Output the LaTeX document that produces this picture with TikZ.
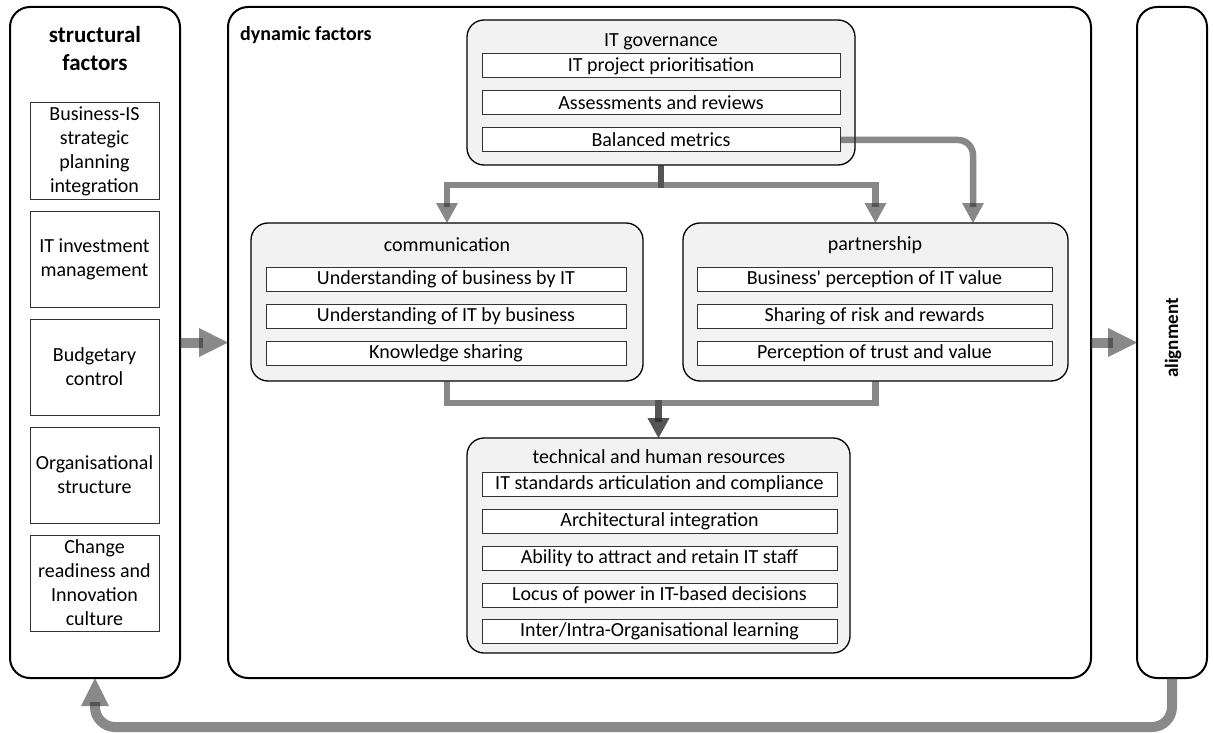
\documentclass[tikz,border=0pt]{standalone}
\usepackage{fontspec}
\setmainfont{Carlito}[Ligatures=TeXOff]
\usetikzlibrary{calc}
\definecolor{groupfill}{HTML}{F2F2F2}
\definecolor{connc}{HTML}{2F2F2F}
\newcommand{\diagfont}{\fontsize{20}{24}\selectfont}
\begin{document}
\begin{tikzpicture}[x=1pt,y=-1pt,
  outerbox/.style={draw=black,line width=2pt,rounded corners=20pt,fill=white,inner sep=0pt,outer sep=0pt,anchor=north west},
  groupbox/.style={draw=black,line width=1.3pt,rounded corners=17pt,fill=groupfill,inner sep=0pt,outer sep=0pt,anchor=north west},
  itembox/.style={draw=black!80,line width=1pt,fill=white,inner sep=0pt,outer sep=0pt,anchor=north west,minimum height=24pt,font=\diagfont},
  leftbox/.style={draw=black!80,line width=1pt,fill=white,inner sep=0pt,outer sep=0pt,anchor=north west,minimum width=129pt,minimum height=96pt,align=center,font=\diagfont},
  grouptitle/.style={inner sep=0pt,font=\diagfont},
  conn/.style={draw=connc,draw opacity=.57,line width=6.5pt},
  bigconn/.style={draw=connc,draw opacity=.57,line width=10pt},
  head/.style={fill=connc,fill opacity=.57},
]
\useasboundingbox (0,0) rectangle (1213,733);

% three outer panels
\node[outerbox,minimum width=170pt,minimum height=671pt] (struct) at (10,7) {};
\node[outerbox,minimum width=863pt,minimum height=671pt] (dyn) at (228,7) {};
\node[outerbox,minimum width=70pt,minimum height=671pt] (align) at (1137,7) {};

\node[align=center,inner sep=0pt,font=\bfseries\fontsize{23}{28}\selectfont] (structtitle) at (95,49) {structural\\factors};
\node[anchor=west,inner sep=0pt,font=\bfseries\fontsize{20}{24}\selectfont] (dyntitle) at (240,35) {dynamic factors};
\node[rotate=90,inner sep=0pt,font=\bfseries\fontsize{19}{23}\selectfont] (aligntitle) at (1173,338) {alignment};

% structural factors
\node[leftbox] (s1) at (30,103) {Business-IS\\strategic\\planning\\integration};
\node[leftbox] (s2) at (30,211) {IT investment\\management};
\node[leftbox] (s3) at (30,319) {Budgetary\\control};
\node[leftbox] (s4) at (30,427) {Organisational\\structure};
\node[leftbox] (s5) at (30,535) {Change\\readiness and\\Innovation\\culture};

% IT governance
\node[groupbox,minimum width=388pt,minimum height=145pt] (gov) at (467,20) {};
\node[grouptitle] (govtitle) at (661,42) {IT governance};
\node[itembox,minimum width=358pt] (g1) at (482,54) {IT project prioritisation};
\node[itembox,minimum width=358pt] (g2) at (482,91) {Assessments and reviews};
\node[itembox,minimum width=358pt] (g3) at (482,128) {Balanced metrics};

% communication
\node[groupbox,minimum width=392pt,minimum height=158pt] (comm) at (251,223) {};
\node[grouptitle] (commtitle) at (447,245) {communication};
\node[itembox,minimum width=360pt] (c1) at (266,267) {Understanding of business by IT};
\node[itembox,minimum width=360pt] (c2) at (266,304) {Understanding of IT by business};
\node[itembox,minimum width=360pt] (c3) at (266,341) {Knowledge sharing};

% partnership
\node[groupbox,minimum width=385pt,minimum height=158pt] (part) at (683,223) {};
\node[grouptitle] (parttitle) at (875,245) {partnership};
\node[itembox,minimum width=355pt] (p1) at (697,267) {Business' perception of IT value};
\node[itembox,minimum width=355pt] (p2) at (697,304) {Sharing of risk and rewards};
\node[itembox,minimum width=355pt] (p3) at (697,341) {Perception of trust and value};

% technical and human resources
\node[groupbox,minimum width=383pt,minimum height=215pt] (tech) at (467,438) {};
\node[grouptitle] (techtitle) at (659,457) {technical and human resources};
\node[itembox,minimum width=355pt] (t1) at (482,472) {IT standards articulation and compliance};
\node[itembox,minimum width=355pt] (t2) at (482,509) {Architectural integration};
\node[itembox,minimum width=355pt] (t3) at (482,546) {Ability to attract and retain IT staff};
\node[itembox,minimum width=355pt] (t4) at (482,583) {Locus of power in IT-based decisions};
\node[itembox,minimum width=355pt] (t5) at (482,619) {Inter/Intra-Organisational learning};

% governance -> communication / partnership
\draw[conn] (gov.south) -- ++(0,20) -| ($(comm.north)+(0,-16)$);
\fill[head] (comm.north) -- ++(-11,-20) -- ++(22,0) -- cycle;
\draw[conn] (gov.south) -- ++(0,20) -| ($(part.north)+(0,-16)$);
\fill[head] (part.north) -- ++(-11,-20) -- ++(22,0) -- cycle;
\draw[conn,rounded corners=15pt] (g3.east) -| ($(part.north east)+(-95,-16)$);
\fill[head] ($(part.north east)+(-95,0)$) -- ++(-11,-20) -- ++(22,0) -- cycle;

% communication / partnership -> resources
\draw[conn] (comm.south) -- ++(0,22) -| ($(tech.north)+(0,-16)$);
\fill[head] (tech.north) -- ++(-11,-20) -- ++(22,0) -- cycle;
\draw[conn] (part.south) -- ++(0,22) -| ($(tech.north)+(0,-16)$);
\fill[head] (tech.north) -- ++(-11,-20) -- ++(22,0) -- cycle;

% structural -> dynamic -> alignment -> structural
\draw[bigconn] (struct.east) -- ($(dyn.west)+(-25,0)$);
\fill[head] (dyn.west) -- ++(-29,-14.5) -- ++(0,29) -- cycle;
\draw[bigconn] (dyn.east) -- ($(align.west)+(-24,0)$);
\fill[head] (align.west) -- ++(-29,-14.5) -- ++(0,29) -- cycle;
\draw[bigconn,rounded corners=20pt] (align.south) -- ++(0,49) -| ($(struct.south)+(0,24)$);
\fill[head] (struct.south) -- ++(-14,28) -- ++(28,0) -- cycle;
\end{tikzpicture}
\end{document}
